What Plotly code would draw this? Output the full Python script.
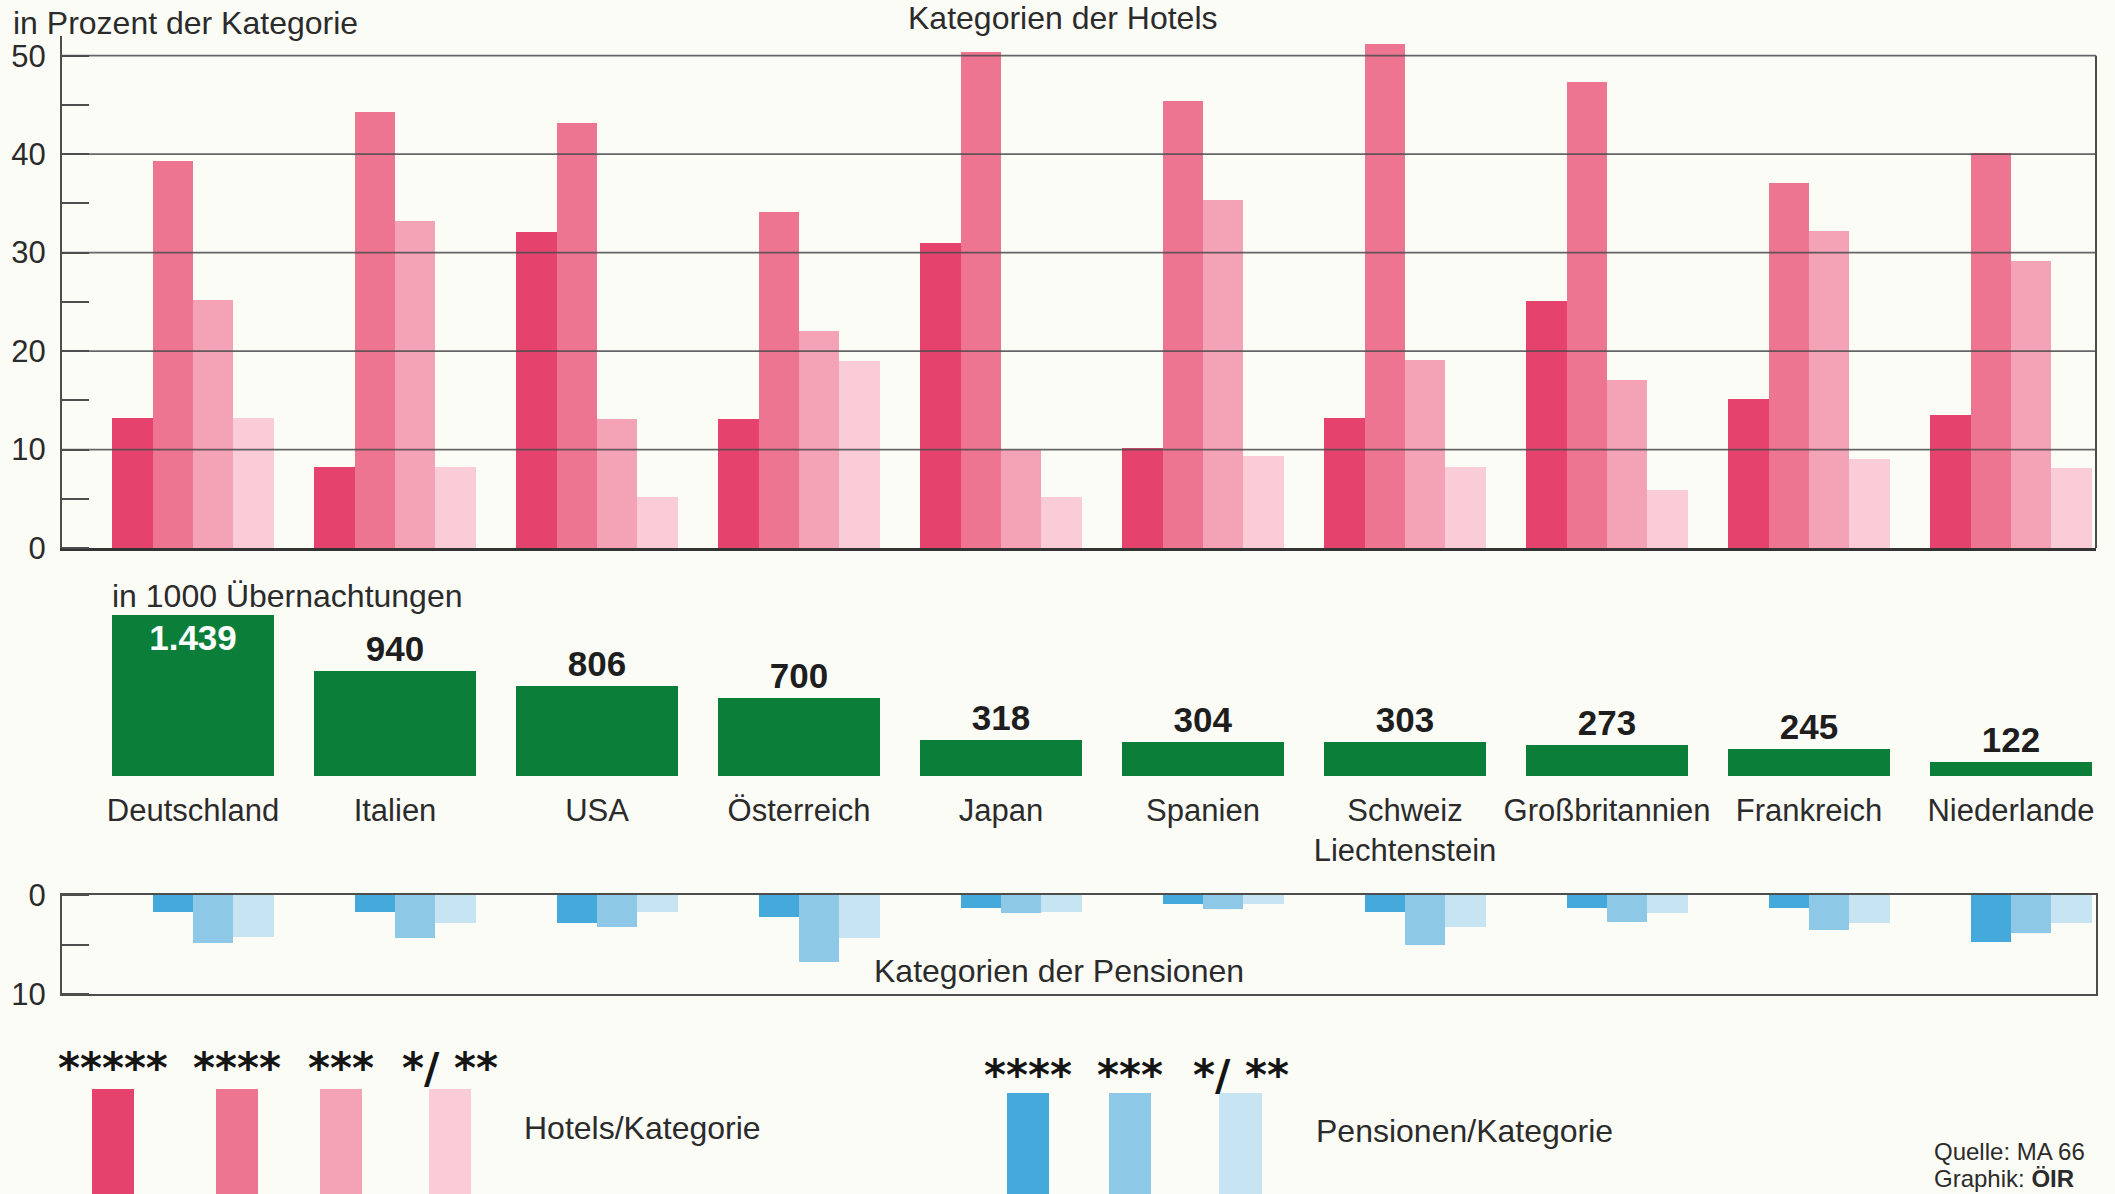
import plotly.graph_objects as go

# ---------------- data ----------------
countries = ["Deutschland", "Italien", "USA", "Österreich", "Japan", "Spanien",
             "Schweiz<br>Liechtenstein", "Großbritannien", "Frankreich", "Niederlande"]

hotel_cats = ["*****", "****", "***", "*/ **"]
hotel_5 = [13.2, 8.2, 32.1, 13.1, 31.0, 10.2, 13.2, 25.1, 15.1, 13.5]
hotel_4 = [39.3, 44.3, 43.2, 34.1, 50.4, 45.4, 51.2, 47.3, 37.1, 40.1]
hotel_3 = [25.2, 33.2, 13.1, 22.0, 10.0, 35.3, 19.1, 17.1, 32.2, 29.1]
hotel_12 = [13.2, 8.2, 5.2, 19.0, 5.2, 9.3, 8.2, 5.9, 9.0, 8.1]

naechtigungen = [1439, 940, 806, 700, 318, 304, 303, 273, 245, 122]

pension_cats = ["****", "***", "*/ **"]
pension_4 = [1.7, 1.7, 2.8, 2.2, 1.3, 0.9, 1.7, 1.3, 1.3, 4.7]
pension_3 = [4.8, 4.3, 3.2, 6.8, 1.8, 1.4, 5.0, 2.7, 3.5, 3.8]
pension_12 = [4.2, 2.8, 1.7, 4.3, 1.7, 0.9, 3.2, 1.8, 2.8, 2.8]

top_ticks = [0, 10, 20, 30, 40, 50]
bottom_ticks = [0, 10]

# ---------------- style ----------------
W, H = 2115, 1194
BG = "#FCFCF7"
TXT = "#2b2b2b"
LINE = "#4d4d4d"
FONT = "Liberation Sans, Arial, sans-serif"
hotel_colors = ["#E5436E", "#EE7592", "#F4A2B6", "#F9CCD7"]
pension_colors = ["#45AADB", "#8DC8E6", "#C6E4F2"]
GREEN = "#0B7F3A"


def px(xp):
    return xp / W


def py(yp):
    return 1 - yp / H


x_idx = list(range(len(countries)))
xrange_ = [-0.6485, 9.4208]
xdom = [px(62), px(2096)]

fig = go.Figure()

# top: hotels
hotel_series = [hotel_5, hotel_4, hotel_3, hotel_12]
for i, (name, vals) in enumerate(zip(hotel_cats, hotel_series)):
    fig.add_trace(go.Bar(x=x_idx, y=vals, name="Hotels " + name, width=0.2,
                         offset=-0.4 + 0.2 * i, marker=dict(color=hotel_colors[i], line=dict(width=0)),
                         xaxis="x", yaxis="y", showlegend=False))

# middle: overnight stays
text_pos = ["inside" if v == max(naechtigungen) else "outside" for v in naechtigungen]
fig.add_trace(go.Bar(x=x_idx, y=naechtigungen, width=0.8, offset=-0.4,
                     marker=dict(color=GREEN, line=dict(width=0)),
                     texttemplate="%{y:,}", textposition=text_pos, textangle=0,
                     insidetextanchor="end", constraintext="none", cliponaxis=False,
                     insidetextfont=dict(color="white", size=35, family=FONT, weight="bold"),
                     outsidetextfont=dict(color="#1e1e1e", size=35, family=FONT, weight="bold"),
                     xaxis="x2", yaxis="y2", showlegend=False))

# bottom: pensions
pension_series = [pension_4, pension_3, pension_12]
for i, (name, vals) in enumerate(zip(pension_cats, pension_series)):
    fig.add_trace(go.Bar(x=x_idx, y=vals, name="Pensionen " + name, width=0.2,
                         offset=-0.2 + 0.2 * i, marker=dict(color=pension_colors[i], line=dict(width=0)),
                         xaxis="x3", yaxis="y3", showlegend=False))

axis_font = dict(family=FONT, size=31, color=TXT)
label_font = dict(family=FONT, size=31, color=TXT)

fig.update_layout(
    width=W, height=H, autosize=False,
    margin=dict(l=0, r=0, t=0, b=0, pad=0, autoexpand=False),
    paper_bgcolor=BG, plot_bgcolor="rgba(0,0,0,0)",
    separators=",.",
    font=dict(family=FONT, color=TXT),
    bargap=0, bargroupgap=0,
    xaxis=dict(domain=xdom, range=xrange_, anchor="y", showticklabels=False, ticks="",
               automargin=False, showgrid=False, zeroline=False, showline=True,
               linecolor="#333333", linewidth=2.5),
    yaxis=dict(domain=[py(548), py(36)], range=[0, 52], anchor="x", tickvals=top_ticks,
               automargin=False, ticks="", showgrid=False, zeroline=False, showline=True,
               linecolor=LINE, linewidth=2, tickfont=axis_font, ticklabelstandoff=8,
               minor=dict(dtick=5, tick0=0, ticks="inside", ticklen=27, tickcolor=LINE,
                          tickwidth=2, showgrid=False)),
    xaxis2=dict(domain=xdom, range=xrange_, anchor="y2", tickvals=x_idx, ticktext=countries,
                tickangle=0, automargin=False, ticks="", showgrid=False, zeroline=False,
                showline=False, tickfont=label_font, ticklabelstandoff=13),
    yaxis2=dict(domain=[py(776), py(608)], range=[0, 1500], anchor="x2", visible=False,
                automargin=False),
    xaxis3=dict(domain=xdom, range=xrange_, anchor="y3", showticklabels=False, ticks="",
                automargin=False, showgrid=False, zeroline=False, showline=True, mirror=True,
                linecolor=LINE, linewidth=2),
    yaxis3=dict(domain=[py(994), py(895)], range=[10, 0], anchor="x3", tickvals=bottom_ticks,
                automargin=False, ticks="", showgrid=False, zeroline=False, showline=True,
                mirror=True, linecolor=LINE, linewidth=2, tickfont=axis_font, ticklabelstandoff=8,
                minor=dict(dtick=5, tick0=0, ticks="inside", ticklen=27, tickcolor=LINE,
                           tickwidth=2, showgrid=False)),
)

shapes = []
# grid lines of the hotel panel, drawn over the bars
for t in top_ticks[1:]:
    shapes.append(dict(type="line", xref="x domain", yref="y", x0=0, x1=1, y0=t, y1=t,
                       line=dict(color=LINE, width=1.8), opacity=0.85, layer="above"))
# right border of the hotel panel
shapes.append(dict(type="line", xref="x domain", yref="y", x0=1, x1=1, y0=0, y1=top_ticks[-1],
                   line=dict(color=LINE, width=2), layer="above"))

# legend swatches
hotel_sw = [(92, 134), (216, 258), (320, 362), (429, 471)]
pension_sw = [(1007, 1049), (1109, 1151), (1219, 1262)]
for (a, b), c in zip(hotel_sw, hotel_colors):
    shapes.append(dict(type="rect", xref="paper", yref="paper", x0=px(a), x1=px(b),
                       y0=py(1194), y1=py(1089), fillcolor=c, line=dict(width=0)))
for (a, b), c in zip(pension_sw, pension_colors):
    shapes.append(dict(type="rect", xref="paper", yref="paper", x0=px(a), x1=px(b),
                       y0=py(1194), y1=py(1093), fillcolor=c, line=dict(width=0)))
fig.update_layout(shapes=shapes)

ann = []


def text(t, xp, yp, size=32, xanchor="center", bold=False, **kw):
    ann.append(dict(text=t, x=px(xp), y=py(yp), xref="paper", yref="paper", showarrow=False,
                    xanchor=xanchor, yanchor="middle",
                    font=dict(family=kw.pop("family", FONT), size=size, color=kw.pop("color", TXT),
                              weight="bold" if bold else "normal"), **kw))


text("in Prozent der Kategorie", 11, 23, xanchor="left")
text("Kategorien der Hotels", 1063, 18)
text("in 1000 Übernachtungen", 110, 596, xanchor="left")
text("Kategorien der Pensionen", 1059, 971)
text("Hotels/Kategorie", 522, 1128, xanchor="left")
text("Pensionen/Kategorie", 1314, 1131, xanchor="left")
text("Quelle: MA 66", 1932, 1151, size=24, xanchor="left")
text("Graphik: <b>ÖIR</b>", 1932, 1178, size=24, xanchor="left")

for (a, b), lab in zip(hotel_sw, hotel_cats):
    text(lab, (a + b) / 2, 1068, size=42, bold=True, family="DejaVu Sans", color="#151515")
for (a, b), lab in zip(pension_sw, pension_cats):
    text(lab, (a + b) / 2, 1075, size=42, bold=True, family="DejaVu Sans", color="#151515")

fig.update_layout(annotations=ann)

fig.write_html("out.html", config={"displayModeBar": False},
               post_script="document.body.style.margin='0';document.body.style.overflow='hidden';")
